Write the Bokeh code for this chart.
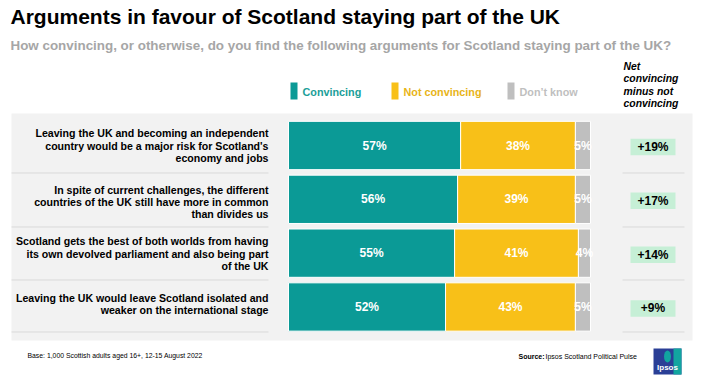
from bokeh.plotting import figure
from bokeh.models import Range1d, ColumnDataSource
from bokeh.core.properties import value
from bokeh.embed import file_html
from bokeh.resources import INLINE

# ---- data ----
statements = [
    ["Leaving the UK and becoming an independent", "country would be a major risk for Scotland's", "economy and jobs"],
    ["In spite of current challenges, the different", "countries of the UK still have more in common", "than divides us"],
    ["Scotland gets the best of both worlds from having", "its own devolved parliament and also being part", "of the UK"],
    ["Leaving the UK would leave Scotland isolated and", "weaker on the international stage"],
]
convincing = [57, 56, 55, 52]
not_convincing = [38, 39, 41, 43]
dont_know = [5, 5, 4, 5]
series_names = ["Convincing", "Not convincing", "Don\u2019t know"]

TEAL = "#0b9a96"
GOLD = "#f8c018"
GREY = "#bfbfbf"
PANEL = "#f2f2f2"
FONT = value("Liberation Sans")

W, H = 694, 381


def px(x):  # reference pixel x -> percent units
    return (x - 288) / 3.02


def py(y):  # reference pixel y -> row units
    return (y - 145) / 53.83


p = figure(width=W, height=H, output_backend="svg", toolbar_location=None,
           x_range=Range1d(px(0), px(W)), y_range=Range1d(py(H), py(0)),
           x_axis_type=None, y_axis_type=None, min_border=0)
p.grid.visible = False
p.outline_line_color = None
p.background_fill_color = "white"
p.border_fill_color = "white"


def txt(x, y, t, size, color="black", align="left", style="bold", baseline="middle"):
    p.text(x=[px(x)], y=[py(y)], text=[t], text_font=FONT, text_font_size=size,
           text_font_style=style, text_color=color, text_align=align,
           text_baseline=baseline)


# panel
p.quad(left=[px(11)], right=[px(692)], top=[py(113)], bottom=[py(340)],
       fill_color=PANEL, line_color=None)

# title / subtitle
txt(10, 16, "Arguments in favour of Scotland staying part of the UK", "21px")
txt(10, 45, "How convincing, or otherwise, do you find the following arguments for Scotland staying part of the UK?",
    "13.4px", color="#a6a6a6")

# legend
leg_x = [290, 391, 507]
leg_cols = [TEAL, GOLD, GREY]
leg_txt_cols = ["#1a9e98", "#e8b418", "#bfbfbf"]
for lx, c, tc, name in zip(leg_x, leg_cols, leg_txt_cols, series_names):
    p.quad(left=[px(lx)], right=[px(lx + 7)], top=[py(82)], bottom=[py(99)],
           fill_color=c, line_color=None)
    txt(lx + 12, 91, name, "10.8px", color=tc)

for i, line in enumerate(["Net", "convincing", "minus not", "convincing"]):
    txt(623, 66 + 12.4 * i, line, "10.4px", style="bold italic")

# row separators
for yy in [172.5, 226.5, 279.5, 331.5]:
    p.line(x=[px(11), px(268)], y=[py(yy), py(yy)], line_color="#d9d9d9", line_width=1)
    p.line(x=[px(622), px(684)], y=[py(yy), py(yy)], line_color="#d9d9d9", line_width=1)

# statement labels
rows = list(range(len(statements)))
label_offsets = [0, 2.5, 0.5, -3]
for i, lines in enumerate(statements):
    n = len(lines)
    cy = 145 + 53.83 * i + label_offsets[i]
    for k, line in enumerate(lines):
        yy = cy + (k - (n - 1) / 2) * 12.2
        txt(268, yy, line, "10.6px", align="right")

# stacked bars
src = ColumnDataSource(dict(
    y=rows,
    c0=[0] * 4,
    c1=convincing,
    c2=[a + b for a, b in zip(convincing, not_convincing)],
    c3=[a + b + c for a, b, c in zip(convincing, not_convincing, dont_know)],
))
bh = 48.3 / 53.83
p.hbar(y="y", left="c0", right="c1", height=bh, source=src, fill_color=TEAL, line_color="white", line_width=1)
p.hbar(y="y", left="c1", right="c2", height=bh, source=src, fill_color=GOLD, line_color="white", line_width=1)
p.hbar(y="y", left="c2", right="c3", height=bh, source=src, fill_color=GREY, line_color="white", line_width=1)

# segment labels
for vals, starts in [(convincing, [0] * 4),
                     (not_convincing, convincing),
                     (dont_know, [a + b for a, b in zip(convincing, not_convincing)])]:
    p.text(x=[s + v / 2 for s, v in zip(starts, vals)], y=rows,
           text=[f"{v}%" for v in vals], text_font=FONT, text_font_size="12px",
           text_font_style="bold", text_color="white", text_align="center",
           text_baseline="middle")

# net boxes
net = [a - b for a, b in zip(convincing, not_convincing)]
net_y = [r + 1.5 / 53.83 for r in rows]
p.rect(x=[px(652.5)] * 4, y=net_y, width=45 / 3.02, height=16.5 / 53.83,
       fill_color="#c6efd6", line_color=None)
p.text(x=[px(652.5)] * 4, y=net_y, text=[f"+{v}%" for v in net], text_font=FONT,
       text_font_size="12px", text_font_style="bold", text_color="black",
       text_align="center", text_baseline="middle")

# footer
txt(27, 355, "Base: 1,000 Scottish adults aged 16+, 12-15 August 2022", "6.85px", style="normal")
txt(518, 356, "Source:", "7px", style="bold")
txt(545, 356, "Ipsos Scotland Political Pulse", "7px", style="normal")

# logo
p.quad(left=[px(653)], right=[px(681)], top=[py(348)], bottom=[py(374)],
       fill_color="#2a3f96", line_color=None)
p.quad(left=[px(673)], right=[px(681)], top=[py(348)], bottom=[py(374)],
       fill_color="#12a5a0", line_color=None)
p.ellipse(x=[px(667)], y=[py(356)], width=7 / 3.02, height=12 / 53.83,
          fill_color="#12a5a0", line_color=None)
txt(667, 367, "Ipsos", "8px", color="white", align="center", style="bold")

open("out.html", "w").write(file_html(p, INLINE))
